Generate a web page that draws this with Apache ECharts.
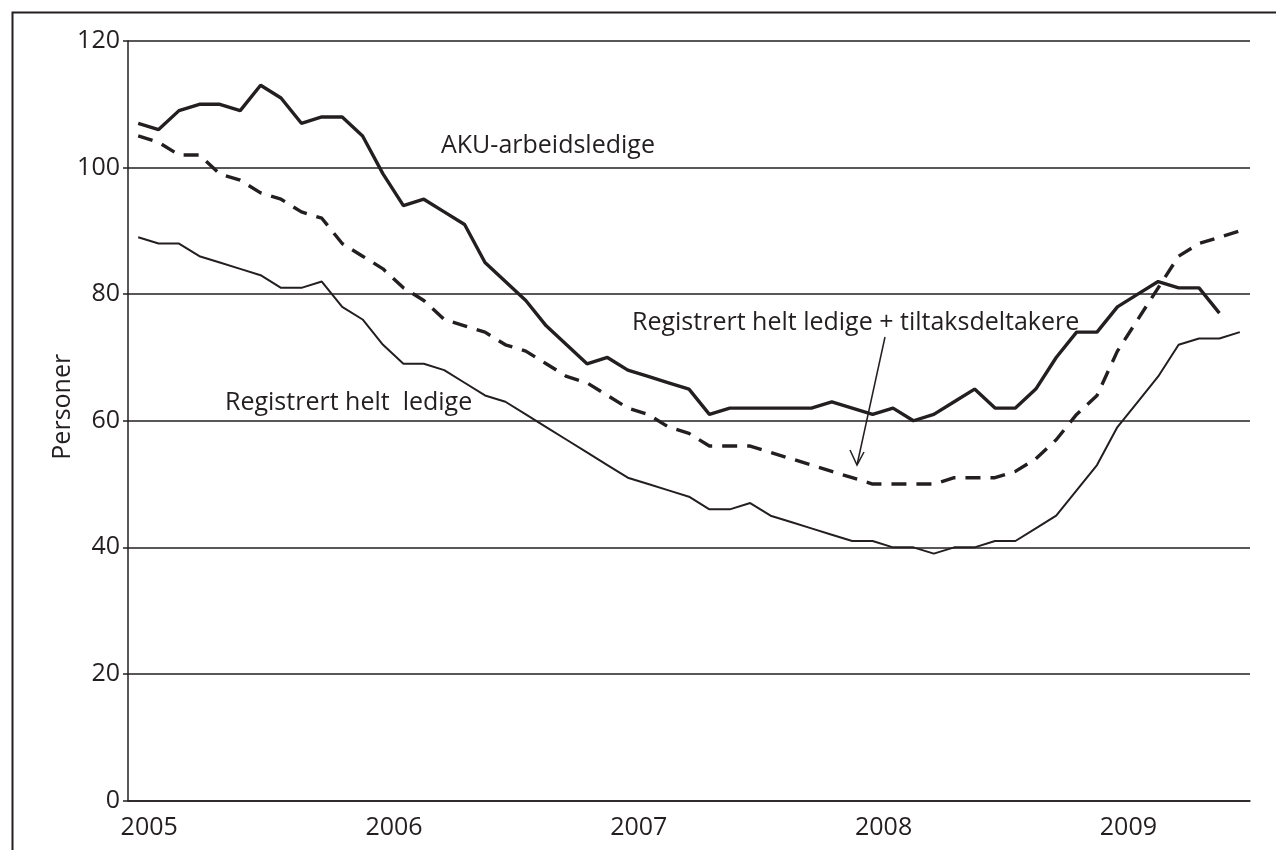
<!DOCTYPE html>
<html lang="no">
<head>
    <meta charset="UTF-8">
    <script src="https://cdn.jsdelivr.net/npm/echarts@6/dist/echarts.min.js"></script>
</head>
<body style="margin:0;background:#fff;">
    <div id="chart" style="width:1276px;height:850px;"></div>
    <script>
        // monthly, Jan 2005 - Jul 2009 (1000 personer)
        var years = ['2005', '2006', '2007', '2008', '2009']
        var monthsLastYear = 7
        var aku = [107,106,109,110,110,109,113,111,107,108,108,105,
                   99,94,95,93,91,85,82,79,75,72,69,70,
                   68,67,66,65,61,62,62,62,62,62,63,62,
                   61,62,60,61,63,65,62,62,65,70,74,74,
                   78,80,82,81,81,77]
        var regTiltak = [105,104,102,102,99,98,96,95,93,92,88,86,
                         84,81,79,76,75,74,72,71,69,67,66,64,
                         62,61,59,58,56,56,56,55,54,53,52,51,
                         50,50,50,50,51,51,51,52,54,57,61,64,
                         71,76,81,86,88,89,90]
        var regHelt = [89,88,88,86,85,84,83,81,81,82,78,76,
                       72,69,69,68,66,64,63,61,59,57,55,53,
                       51,50,49,48,46,46,47,45,44,43,42,41,
                       41,40,40,39,40,40,41,41,43,45,49,53,
                       59,63,67,72,73,73,74]
        var yTicks = [0, 20, 40, 60, 80, 100, 120]

        var months = []
        years.forEach(function (y, i) {
            var n = i === years.length - 1 ? monthsLastYear : 12
            for (var m = 1; m <= n; m++) months.push(y + '-' + (m < 10 ? '0' + m : m))
        })

        var ink = '#231f20'
        var font = "'Open Sans', 'DejaVu Sans', sans-serif"
        var fs = 25

        var myChart = echarts.init(document.getElementById('chart'))
        var option = {
            animation: false,
            grid: { left: 128, right: 26, top: 41, bottom: 49.5 },
            xAxis: {
                type: 'category',
                data: months,
                boundaryGap: true,
                axisLine: { lineStyle: { color: ink, width: 1.5 } },
                axisTick: { interval: 0, length: 6, lineStyle: { color: ink, width: 1.5 } },
                axisLabel: {
                    interval: function (index) { return index % 12 === 0 },
                    formatter: function (v) { return v.slice(0, 4) },
                    color: ink, fontFamily: font, fontSize: fs, margin: 15,
                    padding: [0, 0, 0, 22]
                },
                splitLine: { show: false }
            },
            yAxis: {
                type: 'value',
                min: yTicks[0], max: yTicks[yTicks.length - 1], interval: 20,
                name: 'Personer',
                nameLocation: 'middle',
                nameGap: 53,
                nameMoveOverlap: false,
                nameTextStyle: { color: ink, fontFamily: font, fontSize: fs, padding: [0, 0, 0, 28] },
                axisLine: { show: true, lineStyle: { color: ink, width: 1.5 } },
                axisTick: { show: true, length: 5, lineStyle: { color: ink, width: 1.5 } },
                axisLabel: { color: ink, fontFamily: font, fontSize: fs, margin: 8 },
                splitLine: { lineStyle: { color: ink, width: 1.5 } }
            },
            series: [
                {
                    name: 'AKU-arbeidsledige', type: 'line', data: aku,
                    symbol: 'none', lineStyle: { color: ink, width: 3.4 }
                },
                {
                    name: 'Registrert helt ledige + tiltaksdeltakere', type: 'line', data: regTiltak,
                    symbol: 'none', lineStyle: { color: ink, width: 3.4, type: [15, 10] }
                },
                {
                    name: 'Registrert helt ledige', type: 'line', data: regHelt,
                    symbol: 'none', lineStyle: { color: ink, width: 2 }
                }
            ],
            graphic: [
                // outer frame
                { type: 'rect', left: 10, top: 10, silent: true,
                  shape: { width: 1300, height: 900 },
                  style: { fill: null, stroke: ink, lineWidth: 2 } },
                { type: 'text', x: 441, y: 146,
                  style: { text: 'AKU-arbeidsledige', fill: ink, font: fs + 'px ' + font, verticalAlign: 'middle' } },
                { type: 'text', x: 225, y: 403,
                  style: { text: 'Registrert helt  ledige', fill: ink, font: fs + 'px ' + font, verticalAlign: 'middle' } },
                { type: 'text', x: 632, y: 323,
                  style: { text: 'Registrert helt ledige + tiltaksdeltakere', fill: ink, font: fs + 'px ' + font, verticalAlign: 'middle' } },
                // arrow
                { type: 'line', shape: { x1: 885, y1: 337, x2: 857, y2: 465 },
                  style: { stroke: ink, lineWidth: 1.5 } },
                { type: 'polyline', shape: { points: [[850, 450], [857, 465], [864, 452]] },
                  style: { stroke: ink, lineWidth: 1.5, fill: null } }
            ]
        }
        myChart.setOption(option)
    </script>
</body>
</html>
